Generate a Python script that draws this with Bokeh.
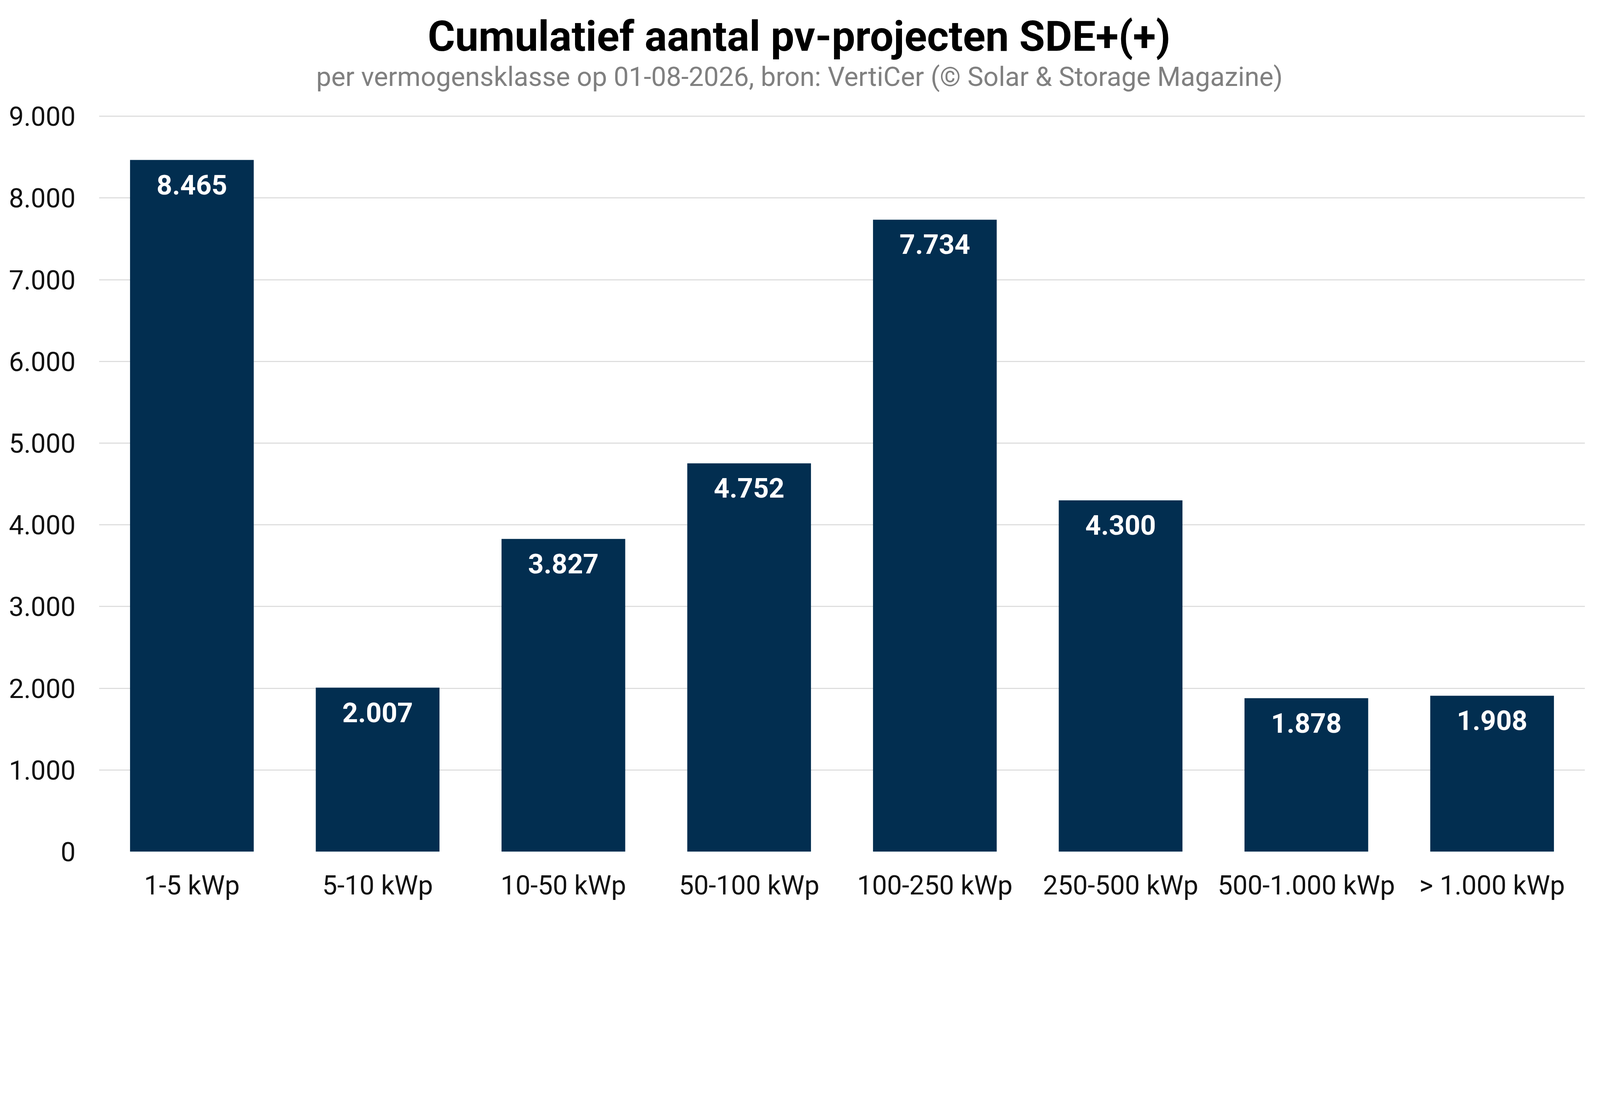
"""Cumulatief aantal pv-projecten SDE+(+) per vermogensklasse."""
import bokeh.models as bm
import bokeh.plotting as bp
from bokeh.core.properties import value
from bokeh.embed import file_html
from bokeh.resources import INLINE

categories = [
    "1-5 kWp",
    "5-10 kWp",
    "10-50 kWp",
    "50-100 kWp",
    "100-250 kWp",
    "250-500 kWp",
    "500-1.000 kWp",
    "> 1.000 kWp",
]
projects = [8465, 2007, 3827, 4752, 7734, 4300, 1878, 1908]
y_ticks = [0, 1000, 2000, 3000, 4000, 5000, 6000, 7000, 8000, 9000]
y_tick_labels = ["0", "1.000", "2.000", "3.000", "4.000", "5.000", "6.000", "7.000", "8.000", "9.000"]

title_text = "Cumulatief aantal pv-projecten SDE+(+)"
subtitle_text = "per vermogensklasse op 01-08-2026, bron: VertiCer (© Solar & Storage Magazine)"

FONT = "Roboto"
BAR_COLOR = "#022E50"
# het frame loopt door tot de bovenrand zodat de titels erin passen
Y_TOP = 10420

source = bm.ColumnDataSource(
    dict(
        cat=categories,
        val=projects,
        label=[f"{v:,}".replace(",", ".") for v in projects],
    )
)

p = bp.figure(
    x_range=bm.FactorRange(*categories),
    y_range=bm.Range1d(0, Y_TOP),
    width=4091,
    height=2322,
    output_backend="svg",
    toolbar_location=None,
    min_border_left=253,
    min_border_right=34,
    min_border_top=0,
    min_border_bottom=142,
)
p.outline_line_color = None
p.background_fill_color = "white"
p.border_fill_color = "white"

p.vbar(x="cat", top="val", width=0.666, color=BAR_COLOR, line_color=None, source=source)
p.text(
    x="cat",
    y="val",
    text="label",
    source=source,
    text_align="center",
    text_baseline="top",
    y_offset=38,
    text_color="white",
    text_font=value(FONT),
    text_font_style="bold",
    text_font_size="70px",
)

# titel en ondertitel, gecentreerd op de pagina
p.text(
    x=["50-100 kWp"], y=[Y_TOP], text=[title_text], x_offset=128, y_offset=30,
    text_align="center", text_baseline="top", text_color="black",
    text_font=value(FONT), text_font_style="bold", text_font_size="107px",
)
p.text(
    x=["50-100 kWp"], y=[Y_TOP], text=[subtitle_text], x_offset=129, y_offset=155,
    text_align="center", text_baseline="top", text_color="#808080",
    text_font=value(FONT), text_font_size="68.5px",
)

# assen
p.xgrid.grid_line_color = None
p.ygrid.grid_line_color = "#d9d9d9"
p.ygrid.grid_line_width = 2.5
p.yaxis.ticker = bm.FixedTicker(ticks=y_ticks)
p.yaxis.major_label_overrides = dict(zip(y_ticks, y_tick_labels))
for ax in (p.xaxis, p.yaxis):
    ax.axis_line_color = None
    ax.major_tick_line_color = None
    ax.minor_tick_line_color = None
    ax.major_tick_in = 0
    ax.major_tick_out = 0
    ax.major_label_text_font = FONT
    ax.major_label_text_font_size = "68px"
    ax.major_label_text_color = "#111111"
p.yaxis.major_label_standoff = 60
p.xaxis.major_label_standoff = 46

open("out.html", "w").write(file_html(p, INLINE))
